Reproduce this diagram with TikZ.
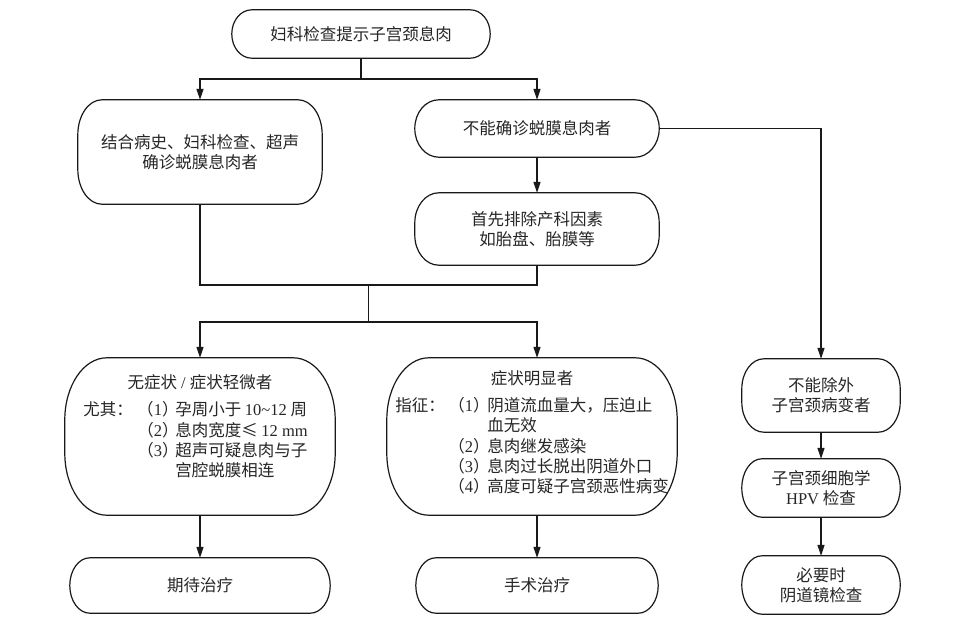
\documentclass[tikz,border=0pt]{standalone}
\usepackage{fontspec}
\setmainfont{Liberation Serif}
\newfontfamily\cjk{Noto Sans CJK SC}
\usetikzlibrary{arrows.meta,calc}
\newcommand\lat[1]{{\rmfamily#1}}
\newcommand\capsule[3]{%
 \draw[boxline] let \p1=(#1.north east), \p2=(#1.south west) in
 ({\x2+#2},\y1) -- ({\x1-#2},\y1)
 arc[start angle=90,end angle=0,x radius=#2,y radius=#3]
 -- (\x1,{\y2+#3})
 arc[start angle=0,end angle=-90,x radius=#2,y radius=#3]
 -- ({\x2+#2},\y2)
 arc[start angle=270,end angle=180,x radius=#2,y radius=#3]
 -- (\x2,{\y1-#3})
 arc[start angle=180,end angle=90,x radius=#2,y radius=#3]
 -- cycle;}
\tikzset{
 bx/.style={draw=none,inner sep=0pt,align=center,text=black!85,
   font=\cjk\fontsize{16.5}{20}\selectfont},
 boxline/.style={draw=black!90,line width=1.2pt},
 ln/.style={draw=black!90,line width=1.2pt},
 arr/.style={ln,-{Triangle[length=11pt,width=7pt]}}
}
\begin{document}
\begin{tikzpicture}[x=1pt,y=1pt]
\fill[white] (0,0) rectangle (960,-627);
\useasboundingbox (0,0) rectangle (960,-627);
\coordinate (colR) at (537,0);
\node[bx,minimum width=258pt,minimum height=48pt] (T) at (361,-34) {妇科检查提示子宫颈息肉};
\node[bx,minimum width=244pt,minimum height=104pt] (A) at (200,-152) {结合病史、妇科检查、超声\\确诊蜕膜息肉者};
\node[bx,minimum width=244pt,minimum height=57pt] (B) at (537,-128.5) {不能确诊蜕膜息肉者};
\node[bx,minimum width=244pt,minimum height=72pt] (C) at (537,-229) {首先排除产科因素\\如胎盘、胎膜等};
\node[bx,minimum width=270pt,minimum height=157pt] (D) at (200,-436.5) {\raisebox{8pt}[\height][\depth]{\begin{tabular}{@{}c@{}}
无症状\lat{ / }症状轻微者\\[7pt]
\begin{tabular}{@{}p{54pt}@{}p{38pt}@{}l@{}}
尤其：&（\lat{1}）&孕周小于 \lat{10\textasciitilde12} 周\\
&（\lat{2}）&息肉宽度≤ \lat{12 mm}\\
&（\lat{3}）&超声可疑息肉与子\\
&&宫腔蜕膜相连
\end{tabular}\hspace{9pt}
\end{tabular}}};
\node[bx,minimum width=290pt,minimum height=157pt] (E) at (532,-436.5) {\raisebox{2pt}[\height][\depth]{\begin{tabular}{@{}c@{}}
症状明显者\\[7pt]
\begin{tabular}{@{}p{53pt}@{}p{39pt}@{}l@{}}
指征：&（\lat{1}）&阴道流血量大，压迫止\\
&&血无效\\
&（\lat{2}）&息肉继发感染\\
&（\lat{3}）&息肉过长脱出阴道外口\\
&（\lat{4}）&高度可疑子宫颈恶性病变
\end{tabular}
\end{tabular}}};
\node[bx,minimum width=260pt,minimum height=55pt] (F) at (200,-585.5) {期待治疗};
\node[bx,minimum width=242pt,minimum height=55pt] (G) at (537,-585.5) {手术治疗};
\node[bx,minimum width=158pt,minimum height=73pt] (H) at (821,-395.5) {不能除外\\子宫颈病变者};
\node[bx,minimum width=158pt,minimum height=58pt] (I) at (821,-488) {子宫颈细胞学\\\lat{HPV} 检查};
\node[bx,minimum width=158pt,minimum height=58pt] (J) at (821,-585) {必要时\\阴道镜检查};
\capsule{T}{20pt}{24pt}
\capsule{A}{24pt}{35pt}
\capsule{B}{24pt}{28.5pt}
\capsule{C}{24pt}{30pt}
\capsule{D}{42pt}{62pt}
\capsule{E}{42pt}{62pt}
\capsule{F}{20pt}{27.5pt}
\capsule{G}{20pt}{27.5pt}
\capsule{H}{22pt}{30pt}
\capsule{I}{20pt}{29pt}
\capsule{J}{20pt}{29pt}
\coordinate (s1) at (361,-79);
\coordinate (m) at (368.5,-285);
\coordinate (n) at (368.5,-322);
\draw[ln] (T.south) -- (s1);
\draw[arr] (s1) -| (A.north);
\draw[arr] (s1) -| (B.north);
\draw[arr] (B.south) -- (C.north);
\draw[ln] (A.south) |- (m) -| (C.south);
\draw[ln] (m) -- (n);
\draw[arr] (n) -| (D.north);
\draw[arr] (n) -| (E.north -| colR);
\draw[arr] (D.south) -- (F.north);
\draw[arr] (E.south -| colR) -- (G.north);
\draw[arr] (B.east) -| (H.north);
\draw[arr] (H.south) -- (I.north);
\draw[arr] (I.south) -- (J.north);
\end{tikzpicture}
\end{document}
